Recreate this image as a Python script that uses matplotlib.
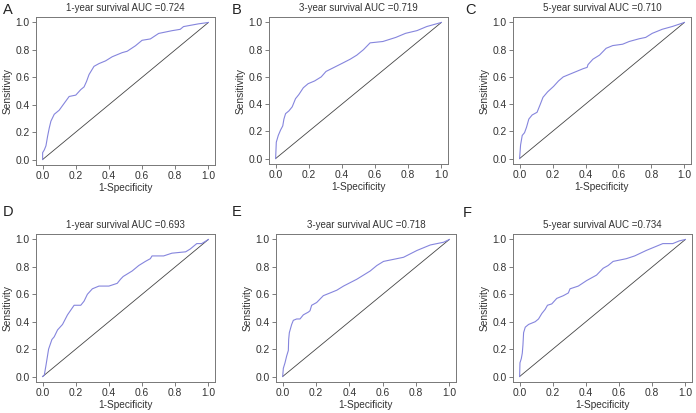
import matplotlib
matplotlib.use("Agg")
import matplotlib.pyplot as plt

plt.rcParams['font.family'] = ['Liberation Sans', 'DejaVu Sans']

# ROC curves (1-specificity, sensitivity)
fpr_a = [0, 0.0, 0.01, 0.02, 0.03, 0.04, 0.05, 0.07, 0.10, 0.13, 0.16, 0.20, 0.23, 0.25, 0.265, 0.28,
         0.31, 0.34, 0.38, 0.42, 0.48, 0.51, 0.56, 0.60, 0.65, 0.70, 0.78, 0.83, 0.85, 0.94, 1.0]
tpr_a = [0, 0.05, 0.07, 0.10, 0.17, 0.23, 0.28, 0.33, 0.36, 0.41, 0.46, 0.47, 0.51, 0.53, 0.57, 0.62,
         0.68, 0.70, 0.72, 0.75, 0.78, 0.79, 0.83, 0.87, 0.88, 0.92, 0.94, 0.95, 0.97, 0.99, 1.0]

fpr_b = [0, 0.004, 0.016, 0.03, 0.043, 0.05, 0.06, 0.08, 0.10, 0.12, 0.14, 0.167, 0.196, 0.235,
         0.275, 0.304, 0.353, 0.402, 0.45, 0.49, 0.53, 0.57, 0.647, 0.725, 0.784, 0.853, 0.912, 1.0]
tpr_b = [0, 0.12, 0.17, 0.21, 0.24, 0.29, 0.33, 0.35, 0.38, 0.44, 0.47, 0.52, 0.55, 0.57,
         0.60, 0.64, 0.67, 0.70, 0.73, 0.76, 0.80, 0.85, 0.86, 0.89, 0.92, 0.94, 0.97, 1.0]

fpr_c = [0, 0.006, 0.016, 0.03, 0.042, 0.056, 0.076, 0.106, 0.126, 0.142, 0.17, 0.206, 0.236, 0.265,
         0.305, 0.345, 0.385, 0.41, 0.415, 0.445, 0.485, 0.525, 0.565, 0.625, 0.665, 0.725, 0.765,
         0.805, 0.866, 0.926, 1.0]
tpr_c = [0, 0.10, 0.17, 0.19, 0.23, 0.29, 0.32, 0.34, 0.40, 0.45, 0.49, 0.53, 0.57, 0.60,
         0.62, 0.64, 0.66, 0.67, 0.69, 0.73, 0.76, 0.81, 0.83, 0.84, 0.86, 0.88, 0.89,
         0.92, 0.95, 0.97, 1.0]

fpr_d = [0, 0.01, 0.02, 0.036, 0.056, 0.07, 0.09, 0.12, 0.15, 0.19, 0.23, 0.25, 0.27, 0.30, 0.34,
         0.40, 0.45, 0.47, 0.486, 0.54, 0.58, 0.62, 0.65, 0.66, 0.73, 0.78, 0.863, 0.89, 0.93, 0.96, 1.0]
tpr_d = [0, 0.01, 0.08, 0.20, 0.27, 0.29, 0.34, 0.38, 0.45, 0.52, 0.52, 0.55, 0.60, 0.64, 0.66,
         0.66, 0.68, 0.71, 0.73, 0.77, 0.81, 0.84, 0.86, 0.88, 0.88, 0.90, 0.91, 0.93, 0.97, 0.97, 1.0]

fpr_e = [0, 0.004, 0.014, 0.024, 0.034, 0.036, 0.04, 0.054, 0.064, 0.084, 0.104, 0.124, 0.154, 0.164,
         0.174, 0.204, 0.244, 0.285, 0.325, 0.365, 0.445, 0.525, 0.565, 0.605, 0.685, 0.725, 0.806,
         0.886, 0.926, 0.966, 1.0]
tpr_e = [0, 0.06, 0.10, 0.15, 0.19, 0.27, 0.32, 0.38, 0.41, 0.42, 0.42, 0.45, 0.47, 0.48,
         0.52, 0.54, 0.59, 0.61, 0.63, 0.66, 0.71, 0.77, 0.81, 0.84, 0.86, 0.87, 0.92,
         0.96, 0.97, 0.98, 1.0]

fpr_f = [0, 0.002, 0.01, 0.016, 0.02, 0.024, 0.034, 0.054, 0.094, 0.114, 0.134, 0.154, 0.168, 0.194,
         0.224, 0.264, 0.294, 0.304, 0.354, 0.404, 0.464, 0.504, 0.534, 0.564, 0.644, 0.694, 0.764,
         0.864, 0.924, 0.964, 1.0]
tpr_f = [0, 0.10, 0.13, 0.17, 0.23, 0.32, 0.36, 0.38, 0.40, 0.42, 0.46, 0.49, 0.52, 0.53,
         0.57, 0.59, 0.61, 0.64, 0.66, 0.70, 0.74, 0.79, 0.81, 0.84, 0.86, 0.88, 0.92,
         0.97, 0.97, 0.99, 1.0]

letters = ['A', 'B', 'C', 'D', 'E', 'F']
titles = ['1-year survival AUC =0.724', '3-year survival AUC =0.719', '5-year survival AUC =0.710',
          '1-year survival AUC =0.693', '3-year survival AUC =0.718', '5-year survival AUC =0.734']
fprs = [fpr_a, fpr_b, fpr_c, fpr_d, fpr_e, fpr_f]
tprs = [tpr_a, tpr_b, tpr_c, tpr_d, tpr_e, tpr_f]

# axes boxes in pixels: left, top, right, bottom
W, H = 696, 413
boxes = [(36, 17, 215, 165), (269, 17, 448, 164), (513, 17, 691, 164),
         (36, 234, 215, 382), (276, 234, 456, 382), (513, 234, 692, 382)]
letter_pos = [(3, 10), (232, 10), (465, 10), (3, 212), (232, 212), (463, 213)]

fig = plt.figure(figsize=(6.96, 4.13), dpi=100)
fig.patch.set_facecolor('white')

for i in range(6):
    l, t, r, b = boxes[i]
    ax = fig.add_axes([l / W, 1 - b / H, (r - l) / W, (b - t) / H])
    ax.plot([0, 1], [0, 1], color='#444444', lw=0.6)
    ax.plot(fprs[i], tprs[i], color='#8585dd', lw=0.8)
    ax.set_xlim(-0.04, 1.04)
    ax.set_ylim(-0.04, 1.04)
    ticks = [0.0, 0.2, 0.4, 0.6, 0.8, 1.0]
    ax.set_xticks(ticks)
    ax.set_yticks(ticks)
    ax.set_xticklabels(['%.1f' % v for v in ticks])
    ax.set_yticklabels(['%.1f' % v for v in ticks])
    ax.tick_params(labelsize=7.4, colors='#333333', length=3, width=0.6, pad=1.5,
                   color='#666666')
    for s in ax.spines.values():
        s.set_color('#777777')
        s.set_linewidth(0.7)
    ax.set_xlabel('1-Specificity', fontsize=7.3, color='#333333', labelpad=1)
    ax.set_ylabel('Sensitivity', fontsize=7.3, color='#333333', labelpad=2)
    ax.set_title(titles[i], fontsize=7.0, color='#333333', pad=4)
    fx, fy = letter_pos[i]
    fig.text(fx / W, 1 - fy / H, letters[i], fontsize=10.5, color='#222222',
             ha='left', va='center')

fig.savefig('out.png', dpi=100)
